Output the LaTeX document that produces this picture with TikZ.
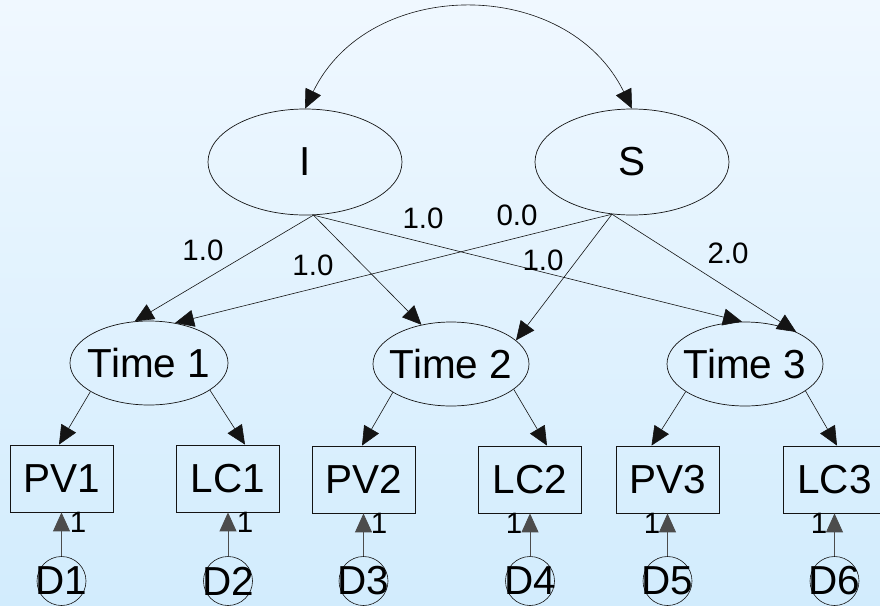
\documentclass[tikz,border=0pt]{standalone}
\usepackage{fontspec}
\setmainfont{Liberation Sans}
\usetikzlibrary{shapes.geometric,arrows.meta}
\definecolor{bgtop}{RGB}{240,248,255}
\definecolor{bgbot}{RGB}{210,236,253}
\definecolor{lnc}{RGB}{20,20,20}
\tikzset{
  big/.style={font=\fontsize{40.5}{42}\selectfont},
  lat/.style={ellipse, draw=lnc, line width=0.7pt, inner sep=0pt, big},
  obs/.style={rectangle, draw=lnc, line width=0.8pt, minimum width=103, minimum height=67, inner sep=0pt, big},
  err/.style={circle, draw=lnc, line width=0.6pt, minimum size=49, inner sep=0pt, big},
  tip/.style={Triangle[length=19pt,width=17pt]},
  arr/.style={-{Triangle[length=19pt,width=17pt]}, line width=0.6pt, draw=lnc},
  darr/.style={-{Triangle[length=19pt,width=17pt]}, line width=0.9pt, draw=black!70},
  lab/.style={font=\fontsize{29.5}{31}\selectfont, inner sep=0pt}
}
\begin{document}
\begin{tikzpicture}[x=1pt,y=-1pt]
\useasboundingbox (0,0) rectangle (880,605);
\clip (0,0) rectangle (880,605);
\fill[top color=bgtop, bottom color=bgbot] (0,0) rectangle (880,605);

% latent factors
\node[lat, minimum width=194, minimum height=106] (I) at (305,162) {\makebox[0pt]{I}};
\node[lat, minimum width=194, minimum height=106] (S) at (632,162) {\makebox[0pt]{S}};
\node[lat, minimum width=158, minimum height=84] (T1) at (149,363) {\makebox[0pt]{Time 1}};
\node[lat, minimum width=156, minimum height=84] (T2) at (451,364) {\makebox[0pt]{Time 2}};
\node[lat, minimum width=156, minimum height=84] (T3) at (745,364) {\makebox[0pt]{Time 3}};

% observed
\node[obs] (PV1) at (61.5,478.5) {PV1};
\node[obs] (LC1) at (228,478.5) {LC1};
\node[obs] (PV2) at (363.5,479.5) {PV2};
\node[obs] (LC2) at (530,479.5) {LC2};
\node[obs] (PV3) at (667.5,479.5) {PV3};
\node[obs] (LC3) at (834.5,479.5) {LC3};

% errors
\node[err] (D1) at (61.5,581) {\makebox[0pt]{D1}};
\node[err] (D2) at (228,581) {\makebox[0pt]{D2}};
\node[err] (D3) at (363.5,581) {\makebox[0pt]{D3}};
\node[err] (D4) at (530,581) {\makebox[0pt]{D4}};
\node[err] (D5) at (667.5,581) {\makebox[0pt]{D5}};
\node[err] (D6) at (834.5,581) {\makebox[0pt]{D6}};

% covariance
\draw[{Triangle[length=19pt,width=17pt]}-{Triangle[length=19pt,width=17pt]}, line width=0.6pt, draw=lnc]
  (I.north) .. controls (369,-24) and (567,-24) .. (S.north);

% loadings
\draw[arr] (I.279) -- (T1.109);
\draw[arr] (I.279) -- (T2.127);
\draw[arr] (I.279) -- (T3.94);
\draw[arr] (S.249) -- (T1.57);
\draw[arr] (S.249) -- (T2.20);
\draw[arr] (S.249) -- (T3.32);

\node[lab] (l1) at (203,250) {1.0};
\node[lab] (l2) at (313,265) {1.0};
\node[lab] (l3) at (423,218) {1.0};
\node[lab] (l4) at (517,215) {0.0};
\node[lab] (l5) at (543,260) {1.0};
\node[lab] (l6) at (728,253) {2.0};

% time to indicators
\draw[arr] (T1.206) -- ([xshift=-2.5]PV1.north);
\draw[arr] (T1.336) -- ([xshift=17]LC1.north);
\draw[arr] (T2.206) -- ([xshift=-1.5]PV2.north);
\draw[arr] (T2.338) -- ([xshift=17]LC2.north);
\draw[arr] (T3.205) -- ([xshift=-16]PV3.north);
\draw[arr] (T3.336) -- ([xshift=2.5]LC3.north);

% errors to indicators
\draw[darr] (D1.north) -- (PV1.south);
\draw[darr] (D2.north) -- (LC1.south);
\draw[darr] (D3.north) -- (PV2.south);
\draw[darr] (D4.north) -- (LC2.south);
\draw[darr] (D5.north) -- (PV3.south);
\draw[darr] (D6.north) -- (LC3.south);

\node[lab] (o1) at (78,522) {1};
\node[lab] (o2) at (245,522) {1};
\node[lab] (o3) at (379,523) {1};
\node[lab] (o4) at (514,523) {1};
\node[lab] (o5) at (652,523) {1};
\node[lab] (o6) at (819,523) {1};
\end{tikzpicture}
\end{document}
